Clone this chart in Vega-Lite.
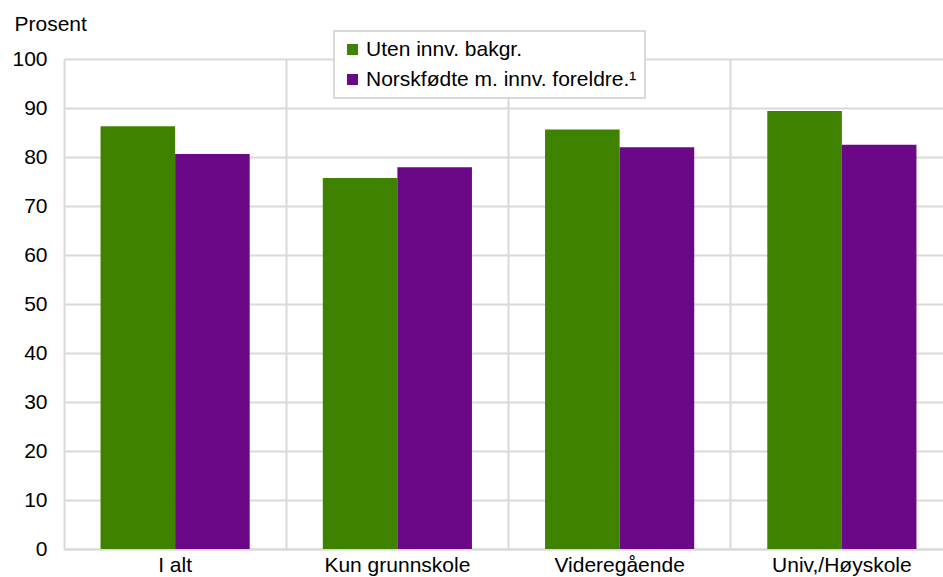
{
  "$schema": "https://vega.github.io/schema/vega-lite/v6.json",
  "width": 889,
  "height": 490,
  "autosize": {"type": "none"},
  "padding": {"left": 64, "top": 59, "right": 0, "bottom": 38},
  "background": "white",
  "config": {
    "font": "Liberation Sans",
    "view": {"stroke": null},
    "axis": {"labelFont": "Liberation Sans", "titleFont": "Liberation Sans", "labelColor": "#000", "titleColor": "#000"}
  },
  "data": {
    "values": [
      {"kategori": "I alt", "gruppe": "Uten innv. bakgr.", "verdi": 86.3},
      {"kategori": "I alt", "gruppe": "Norskfødte m. innv. foreldre.¹", "verdi": 80.6},
      {"kategori": "Kun grunnskole", "gruppe": "Uten innv. bakgr.", "verdi": 75.7},
      {"kategori": "Kun grunnskole", "gruppe": "Norskfødte m. innv. foreldre.¹", "verdi": 77.9},
      {"kategori": "Videregående", "gruppe": "Uten innv. bakgr.", "verdi": 85.6},
      {"kategori": "Videregående", "gruppe": "Norskfødte m. innv. foreldre.¹", "verdi": 82.0},
      {"kategori": "Univ,/Høyskole", "gruppe": "Uten innv. bakgr.", "verdi": 89.4},
      {"kategori": "Univ,/Høyskole", "gruppe": "Norskfødte m. innv. foreldre.¹", "verdi": 82.5}
    ]
  },
  "mark": {"type": "bar"},
  "encoding": {
    "x": {
      "field": "kategori",
      "type": "nominal",
      "sort": ["I alt", "Kun grunnskole", "Videregående", "Univ,/Høyskole"],
      "scale": {"paddingInner": 0, "paddingOuter": 0},
      "axis": {
        "title": null,
        "labelAngle": 0,
        "labelFontSize": 21,
        "labelPadding": 5,
        "ticks": false,
        "grid": true,
        "gridColor": "#d9d9d9",
        "gridWidth": 2,
        "bandPosition": 0,
        "domainColor": "#d9d9d9",
        "domainWidth": 2
      }
    },
    "xOffset": {
      "field": "gruppe",
      "type": "nominal",
      "sort": ["Uten innv. bakgr.", "Norskfødte m. innv. foreldre.¹"],
      "scale": {"paddingInner": 0, "paddingOuter": 0.49}
    },
    "y": {
      "field": "verdi",
      "type": "quantitative",
      "scale": {"domain": [0, 100], "nice": false},
      "axis": {
        "title": "Prosent",
        "titleAngle": 0,
        "titleAlign": "left",
        "titleBaseline": "alphabetic",
        "titleX": -50,
        "titleY": -29,
        "titleFontSize": 21,
        "titleFontWeight": "normal",
        "values": [0, 10, 20, 30, 40, 50, 60, 70, 80, 90, 100],
        "labelFontSize": 21,
        "labelPadding": 17,
        "ticks": false,
        "domain": false,
        "grid": true,
        "gridColor": "#d9d9d9",
        "gridWidth": 2
      }
    },
    "color": {
      "field": "gruppe",
      "type": "nominal",
      "sort": ["Uten innv. bakgr.", "Norskfødte m. innv. foreldre.¹"],
      "scale": {
        "domain": ["Uten innv. bakgr.", "Norskfødte m. innv. foreldre.¹"],
        "range": ["#3f8200", "#6a0887"]
      },
      "legend": {
        "title": null,
        "orient": "none",
        "legendX": 270,
        "legendY": -28,
        "symbolType": "square",
        "symbolSize": 121,
        "symbolStrokeWidth": 0,
        "labelFontSize": 21,
        "labelFont": "Liberation Sans",
        "labelColor": "#000",
        "labelLimit": 400,
        "labelOffset": 3,
        "rowPadding": 8,
        "padding": 8,
        "strokeColor": "#d9d9d9",
        "fillColor": "white",
        "cornerRadius": 0,
        "encode": {"legend": {"update": {"strokeWidth": {"value": 2}}}}
      }
    }
  }
}
